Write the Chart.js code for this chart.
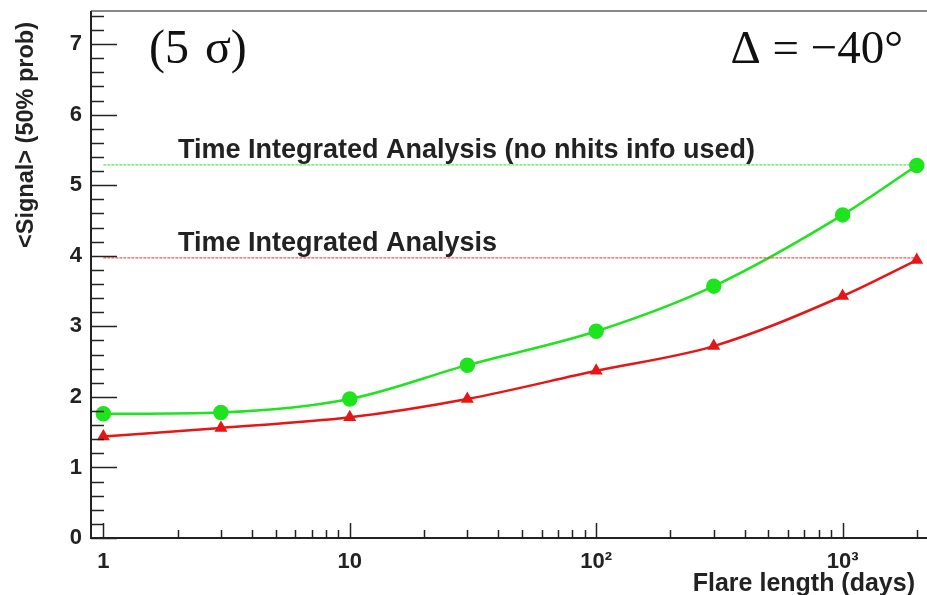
<!DOCTYPE html>
<html>
<head>
<meta charset="utf-8">
<script src="https://cdn.jsdelivr.net/npm/chart.js@4.4.1/dist/chart.umd.min.js"></script>
<style>
  html, body { margin: 0; padding: 0; background: #fff; overflow: hidden; }
  #graph { display: block; }
</style>
</head>
<body>
<canvas id="graph" width="927" height="595"></canvas>
<script>
// flare lengths (days)
const flareDays = [1, 3, 10, 30, 100, 300, 1000, 2000]
// <signal> needed, time dependent analysis with nhits info
const signalNhits = [1.76, 1.78, 1.97, 2.45, 2.93, 3.57, 4.58, 5.28]
// <signal> needed, time dependent analysis without nhits
const signalPlain = [1.44, 1.56, 1.71, 1.97, 2.37, 2.72, 3.43, 3.94]
// time integrated references
const integratedNoNhits = 5.29
const integratedPlain = 3.97
const xTicks = [1, 10, 100, 1000]
const xTickText = ['1', '10', '10²', '10³']
const yTicks = [0, 1, 2, 3, 4, 5, 6, 7]

const green = 'rgb(30, 228, 30)'
const red = 'rgb(230, 22, 22)'
const boldFont = '"Liberation Sans", Arial, sans-serif'
const serifFont = '"Liberation Serif", "Times New Roman", serif'

// no extra room for tick labels hanging over the frame
const noPad = s => {
  s.paddingTop = 0
  s.paddingBottom = 0
  s.paddingLeft = 0
  s.paddingRight = 0
}

const rootStyle = {
  id: 'rootStyle',
  afterDraw(chart) {
    const ctx = chart.ctx
    const area = chart.chartArea
    const xs = chart.scales.x
    const ys = chart.scales.y
    ctx.save()

    // frame
    ctx.strokeStyle = '#888'
    ctx.lineWidth = 2
    ctx.beginPath()
    ctx.moveTo(area.left, area.top)
    ctx.lineTo(area.right, area.top)
    ctx.stroke()
    ctx.strokeStyle = '#222'
    ctx.beginPath()
    ctx.moveTo(area.left, area.top)
    ctx.lineTo(area.left, area.bottom)
    ctx.lineTo(area.right, area.bottom)
    ctx.stroke()

    // y ticks, inside the frame
    ctx.lineWidth = 1.5
    for (let v = 0; v <= ys.max + 1e-9; v += 0.2) {
      const y = Math.round(ys.getPixelForValue(v)) + 0.5
      const major = Math.abs(v - Math.round(v)) < 1e-6
      ctx.beginPath()
      ctx.moveTo(area.left, y)
      ctx.lineTo(area.left + (major ? 26 : 13), y)
      ctx.stroke()
    }

    // x ticks, log decades
    for (let d = 1; d <= 1000; d *= 10) {
      for (let m = 1; m <= 9; m++) {
        const v = d * m
        if (v < xs.min || v > xs.max) continue
        const x = Math.round(xs.getPixelForValue(v)) + 0.5
        ctx.beginPath()
        ctx.moveTo(x, area.bottom)
        ctx.lineTo(x, area.bottom - (m === 1 ? 15 : 8))
        ctx.stroke()
      }
    }

    // axis titles
    ctx.fillStyle = '#222'
    ctx.font = 'bold 23.5px ' + boldFont
    ctx.textAlign = 'right'
    ctx.textBaseline = 'middle'
    ctx.save()
    ctx.translate(27, 22)
    ctx.rotate(-Math.PI / 2)
    ctx.fillText('<Signal> (50% prob)', 0, 0)
    ctx.restore()
    ctx.font = 'bold 25px ' + boldFont
    ctx.textBaseline = 'alphabetic'
    ctx.fillText('Flare length (days)', 915, 591)

    // labels above the reference lines
    ctx.textAlign = 'left'
    ctx.font = 'bold 27px ' + boldFont
    ctx.fillText('Time Integrated Analysis (no nhits info used)', 178, ys.getPixelForValue(integratedNoNhits) - 7)
    ctx.fillText('Time Integrated Analysis', 178, ys.getPixelForValue(integratedPlain) - 7)

    // significance and declination
    ctx.fillStyle = '#111'
    ctx.font = '48px ' + serifFont
    ctx.fillText('(5 \u200Aσ)', 149, 63)
    ctx.textAlign = 'right'
    ctx.font = '47px ' + serifFont
    ctx.fillText('Δ = −40°', 903, 63)
    ctx.restore()
  }
}

const ctx = document.getElementById('graph').getContext('2d')
const chart = new Chart(ctx, {
  type: 'line',
  data: {
    datasets: [
      {
        label: 'integrated no nhits',
        data: [{x: flareDays[0], y: integratedNoNhits}, {x: flareDays[flareDays.length - 1], y: integratedNoNhits}],
        borderColor: 'rgba(60, 225, 60, 0.85)',
        borderWidth: 1.3,
        borderDash: [3, 1],
        pointRadius: 0
      },
      {
        label: 'integrated',
        data: [{x: flareDays[0], y: integratedPlain}, {x: flareDays[flareDays.length - 1], y: integratedPlain}],
        borderColor: 'rgba(235, 60, 60, 0.85)',
        borderWidth: 1.3,
        borderDash: [3, 1],
        pointRadius: 0
      },
      {
        label: 'nhits',
        data: flareDays.map((d, i) => ({x: d, y: signalNhits[i]})),
        borderColor: green,
        backgroundColor: green,
        borderWidth: 2.5,
        pointStyle: 'circle',
        pointRadius: 6.5,
        cubicInterpolationMode: 'monotone'
      },
      {
        label: 'plain',
        data: flareDays.map((d, i) => ({x: d, y: signalPlain[i]})),
        borderColor: red,
        backgroundColor: red,
        borderWidth: 2.5,
        pointStyle: 'triangle',
        pointRadius: 5,
        cubicInterpolationMode: 'monotone'
      }
    ]
  },
  options: {
    responsive: false,
    animation: false,
    layout: { autoPadding: false, padding: { top: 11, right: 0, left: 0, bottom: 0 } },
    plugins: { legend: { display: false }, tooltip: { enabled: false } },
    scales: {
      x: {
        type: 'logarithmic',
        min: 0.891,
        max: 2200,
        grid: { display: false, drawTicks: false },
        border: { display: false },
        afterBuildTicks: s => { s.ticks = xTicks.map(v => ({value: v})) },
        afterFit: s => { s.height = 57; noPad(s) },
        ticks: {
          autoSkip: false,
          maxRotation: 0,
          padding: 11,
          color: '#222',
          font: { family: boldFont, size: 22, weight: 'bold' },
          callback: v => xTickText[xTicks.indexOf(v)]
        }
      },
      y: {
        min: 0,
        max: 7.47,
        grid: { display: false, drawTicks: false },
        border: { display: false },
        afterBuildTicks: s => { s.ticks = yTicks.map(v => ({value: v})) },
        afterFit: s => { s.width = 91; noPad(s) },
        ticks: {
          padding: 9,
          color: '#222',
          font: { family: boldFont, size: 22, weight: 'bold' }
        }
      }
    }
  },
  plugins: [rootStyle]
})
</script>
</body>
</html>
